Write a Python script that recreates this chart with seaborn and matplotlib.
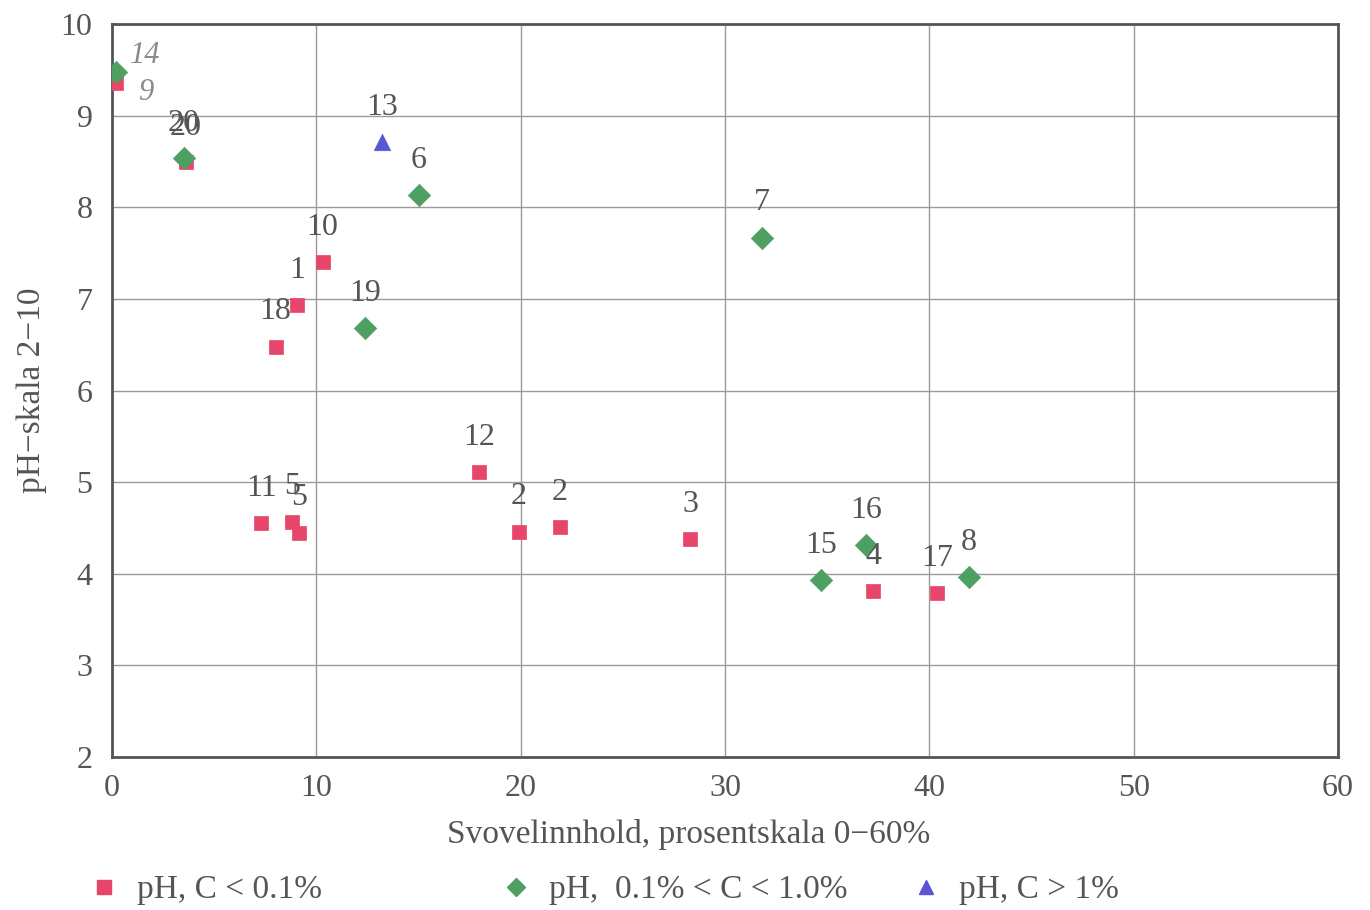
import matplotlib
matplotlib.use("Agg")
import matplotlib.pyplot as plt
import seaborn as sns
import pandas as pd
from matplotlib.lines import Line2D

# ---- data ----
red_x = [0.2, 3.6, 10.3, 9.05, 8.0, 7.3, 8.8, 9.15, 17.96, 19.9, 21.9, 28.3, 37.25, 40.4]
red_y = [9.36, 8.49, 7.40, 6.93, 6.48, 4.55, 4.57, 4.45, 5.11, 4.46, 4.51, 4.38, 3.81, 3.79]
red_lab = ['9', '20', '10', '1', '18', '11', '5', '5', '12', '2', '2', '3', '4', '17']

green_x = [0.2, 3.5, 15.0, 31.8, 12.4, 34.7, 36.9, 41.95]
green_y = [9.48, 8.54, 8.13, 7.67, 6.68, 3.93, 4.31, 3.96]
green_lab = ['14', '20', '6', '7', '19', '15', '16', '8']

blue_x = [13.2]
blue_y = [8.71]
blue_lab = ['13']

groups = ['pH, C < 0.1%', 'pH,  0.1% < C < 1.0%', 'pH, C > 1%']
x_ticks = [0, 10, 20, 30, 40, 50, 60]
y_ticks = [2, 3, 4, 5, 6, 7, 8, 9, 10]

df = pd.DataFrame({
    'x': red_x + green_x + blue_x,
    'y': red_y + green_y + blue_y,
    'lab': red_lab + green_lab + blue_lab,
    'grp': [groups[0]] * len(red_x) + [groups[1]] * len(green_x) + [groups[2]] * len(blue_x),
})

colors = {groups[0]: '#e8456a', groups[1]: '#4e9f62', groups[2]: '#5a55d2'}
markers = {groups[0]: 's', groups[1]: 'D', groups[2]: '^'}
sizes = {groups[0]: 110, groups[1]: 130, groups[2]: 140}

sns.set_theme(style='white')
plt.rcParams['font.family'] = ['Liberation Serif', 'DejaVu Serif']
txt_col = '#555555'
FS = 23

fig = plt.figure(figsize=(13.7, 9.1), dpi=100)
ax = fig.add_axes([0.0818, 0.1681, 0.8948, 0.8055])

for g in groups:
    sub = df[df.grp == g]
    sns.scatterplot(data=sub, x='x', y='y', ax=ax, color=colors[g], marker=markers[g],
                    s=sizes[g], edgecolor=colors[g], linewidth=0.5, legend=False, zorder=3)

# point labels
special = {('14', 'g'): (21, 12, 'italic', '#8a8a8a'), ('9', 'r'): (21, -7, 'italic', '#8a8a8a')}
for g, key in zip(groups, ['r', 'g', 'b']):
    sub = df[df.grp == g]
    for _, row in sub.iterrows():
        if (row.lab, key) in special:
            dx, dy, st, c = special[(row.lab, key)]
            ax.annotate(row.lab, (row.x, row.y), xytext=(dx, dy), textcoords='offset points',
                        ha='center', va='center', fontsize=FS - 1, color=c, style=st, zorder=4)
        else:
            ax.annotate(row.lab, (row.x, row.y), xytext=(0, 25), textcoords='offset points',
                        ha='center', va='center', fontsize=FS, color=txt_col, zorder=4)

ax.set_xlim(0, 60)
ax.set_ylim(2, 10)
ax.set_xticks(x_ticks)
ax.set_yticks(y_ticks)
ax.grid(True, color='#9a9a9a', linewidth=1.0)
ax.set_axisbelow(True)
for sp in ax.spines.values():
    sp.set_color('#555555')
    sp.set_linewidth(2)
ax.tick_params(axis='both', length=0, labelsize=FS, labelcolor=txt_col)
ax.tick_params(axis='x', pad=12)
ax.tick_params(axis='y', pad=14)
ax.set_xlabel('Svovelinnhold, prosentskala 0\u221260%', fontsize=FS + 1, color=txt_col)
ax.xaxis.set_label_coords(0.47, -0.085)
ax.set_ylabel('pH\u2212skala 2\u221210', fontsize=FS + 1, color=txt_col, labelpad=10)

# legend (three separate entries, placed like the reference)
leg_pos = [0.061, 0.362, 0.661]
for g, xpos in zip(groups, leg_pos):
    h = Line2D([], [], linestyle='none', marker=markers[g], color=colors[g],
               markersize=10 if markers[g] != 'D' else 9)
    lg = fig.legend([h], [g], loc='center left', bbox_to_anchor=(xpos, 0.022),
                    frameon=False, fontsize=FS + 1, handletextpad=0.4, handlelength=1.2,
                    borderaxespad=0, borderpad=0)
    for t in lg.get_texts():
        t.set_color(txt_col)

fig.savefig('out.png', dpi=100, facecolor='white')
